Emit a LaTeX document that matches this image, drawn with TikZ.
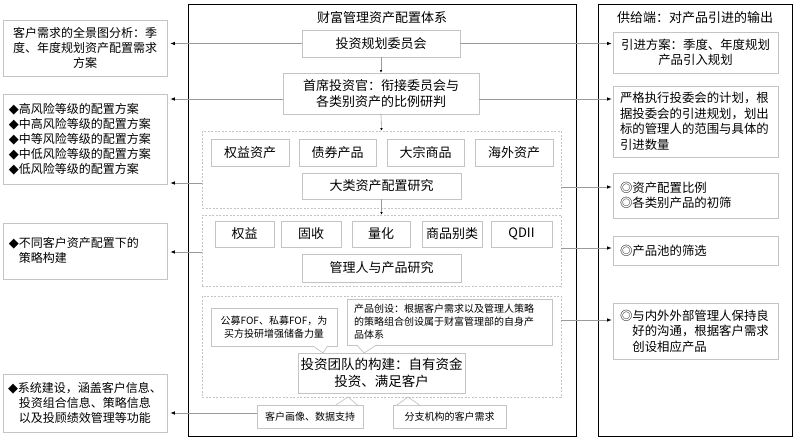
\documentclass[tikz,border=0pt]{standalone}
\usepackage{fontspec}
\setmainfont{Noto Sans CJK SC}
\newfontfamily\dvfont{DejaVu Sans}
\newcommand{\dia}{{\dvfont\fontsize{13}{15}\selectfont ◆}}
\usetikzlibrary{arrows.meta,calc}
\definecolor{bx}{HTML}{C4C4C4}
\definecolor{ln}{HTML}{9A9A9A}
\begin{document}
\begin{tikzpicture}[x=1pt,y=-1pt,
  wh/.style 2 args={minimum width=#1pt,minimum height=#2pt},
  box/.style={draw=bx,line width=0.7pt,inner sep=0pt,align=center,fill=white},
  dbox/.style={draw=bx,line width=0.7pt,dash pattern=on 2pt off 1.5pt,inner sep=0pt},
  frm/.style={draw=black,line width=1pt,inner sep=0pt},
  lt/.style={text width=#1pt,align=left},
  conn/.style={draw=ln,line width=0.7pt,-{Latex[black,length=4.5pt,width=3.5pt]}},
  vconn/.style={draw=ln,line width=0.6pt,-{Latex[black,length=2.5pt,width=2.5pt]}},
  fa/.style={font=\fontsize{13}{16}\selectfont},
  fl/.style={font=\fontsize{12}{15}\selectfont},
  fr/.style={font=\fontsize{12.4}{15.5}\selectfont},
  fs/.style={font=\fontsize{10}{13}\selectfont},
  fb/.style={font=\fontsize{13.5}{16.5}\selectfont},
  ptr/.style={draw=bx,line width=0.7pt,fill=white}
]
\useasboundingbox (0,0) rectangle (796,440);

% frames
\node[frm,wh={388}{432}] (mf) at (382,220) {};
\node[fa] (mt) at (382,18) {财富管理资产配置体系};
\node[frm,wh={194}{432}] (rf) at (695,220) {};
\node[fa] (rt) at (695,18) {供给端：对产品引进的输出};

% center column
\node[box,fa,wh={158}{27}] (b1) at (381,43.5) {投资规划委员会};
\node[box,fa,wh={196}{41}] (cio) at (381,93.5) {首席投资官：衔接委员会与\\各类别资产的比例研判};

\node[dbox,wh={359}{77}] (d1) at (381.5,169.5) {};
\node[box,fa,wh={78}{27}] (a1) at (250,152.5) {权益资产};
\node[box,fa,wh={77}{27}] (a2) at (337.5,152.5) {债券产品};
\node[box,fa,wh={77}{27}] (a3) at (425.5,152.5) {大宗商品};
\node[box,fa,wh={78}{27}] (a4) at (514,152.5) {海外资产};
\node[box,fa,wh={159}{26}] (a5) at (381.5,186) {大类资产配置研究};

\node[dbox,wh={359}{71}] (d2) at (381.5,250.5) {};
\node[box,fa,wh={59}{26}] (m1) at (244.5,234) {权益};
\node[box,fa,wh={60}{26}] (m2) at (311,234) {固收};
\node[box,fa,wh={58}{26}] (m3) at (381,234) {量化};
\node[box,fa,wh={60}{26}] (m4) at (452,234) {商品别类};
\node[box,fa,wh={61}{26}] (m5) at (521.5,234) {QDII};
\node[box,fa,wh={159}{28}] (m6) at (381.5,268) {管理人与产品研究};

\node[dbox,wh={359}{101}] (d3) at (381.5,346.5) {};
\node[box,fs,wh={126}{38}] (c1) at (274,327) {公募FOF、私募FOF，为\\买方投研增强储备力量};
\node[box,fs,wh={205}{46},lt={191}] (c2) at (449.5,322) {产品创设：根据客户需求以及管理人策略\\的策略组合创设属于财富管理部的自身产\\品体系};
\node[box,fb,wh={167}{40}] (t1) at (381.5,373) {投资团队的构建：自有资金\\投资、满足客户};
\path[ptr] ($(c1.south west)+(102,-0.5)$) -- (323,353) -- ($(c1.south west)+(117,-0.5)$);
\path[ptr] ($(c2.south west)+(10,-0.5)$) -- (364,353) -- ($(c2.south west)+(30,-0.5)$);

\node[box,fs,wh={106}{23}] (k1) at (310,416.5) {客户画像、数据支持};
\node[box,fs,wh={113}{23}] (k2) at (449.5,416.5) {分支机构的客户需求};
\path[ptr] ($(k1.north west)+(79,0.5)$) -- (348,397) -- ($(k1.north west)+(101,0.5)$);
\path[ptr] ($(k2.north west)+(4,0.5)$) -- (408,397) -- ($(k2.north west)+(27,0.5)$);

% left column
\node[box,fl,wh={164}{56}] (L1) at (85,48) {客户需求的全景图分析：季\\度、年度规划资产配置需求\\方案};
\node[box,fl,wh={164}{90},lt={152}] (L2) at (85,139) {\dia 高风险等级的配置方案\\\dia 中高风险等级的配置方案\\\dia 中等风险等级的配置方案\\\dia 中低风险等级的配置方案\\\dia 低风险等级的配置方案};
\node[box,fl,wh={164}{56},lt={152}] (L3) at (85,251) {\dia 不同客户资产配置下的\\\phantom{\dia}策略构建};
\node[box,fl,wh={164}{58}] (L4) at (85,403) {\dia 系统建设，涵盖客户信息、\\投资组合信息、策略信息\\以及投顾绩效管理等功能};

% right column
\node[box,fr,wh={165}{41}] (R1) at (695.5,52.5) {引进方案：季度、年度规划\\产品引入规划};
\node[box,fr,wh={165}{71},lt={151}] (R2) at (695.5,121.5) {严格执行投委会的计划，根\\据投委会的引进规划，划出\\标的管理人的范围与具体的\\引进数量};
\node[box,fr,wh={165}{45},lt={151}] (R3) at (695.5,195.5) {◎资产配置比例\\◎各类别产品的初筛};
\node[box,fr,wh={165}{29},lt={151}] (R4) at (695.5,250.5) {◎产品池的筛选};
\node[box,fr,wh={165}{56},lt={151}] (R5) at (695.5,331) {◎与内外外部管理人保持良\\\phantom{◎}好的沟通，根据客户需求\\\phantom{◎}创设相应产品};

% vertical arrows
\draw[vconn] (b1.south) -- (cio.north);
\draw[vconn] (cio.south) -- (d1.north);
\draw[vconn] (a5.south) -- (d2.north);

% left connectors
\draw[conn,shorten >=3pt] (b1.west) -- (b1.west -| L1.east);
\draw[conn,shorten >=3pt] ([yshift=-5.5pt]cio.west) coordinate (p1) -- (p1 -| L2.east);
\draw[conn,shorten >=3pt] ([yshift=-13.5pt]d1.west) coordinate (p2) -- (p2 -| L2.east);
\draw[conn,shorten >=3pt] ([yshift=-1.5pt]d2.west) coordinate (p3) -- (p3 -| L3.east);
\draw[conn,shorten >=3pt] ([yshift=3.5pt]k1.west) coordinate (p4) -- (p4 -| L4.east);

% right connectors
\draw[conn,shorten >=1pt] (b1.east) -- (b1.east -| R1.west);
\draw[conn,shorten >=1pt] ([yshift=-5.5pt]cio.east) coordinate (q1) -- (q1 -| R2.west);
\draw[conn,shorten >=1pt] ([yshift=-17.5pt]d1.east) coordinate (q2) -- (q2 -| R3.west);
\draw[conn,shorten >=1pt] ([yshift=2.5pt]d2.east) coordinate (q3) -- (q3 -| R4.west);
\draw[conn,shorten >=1pt] ([yshift=26.5pt]d3.east) coordinate (q4) -- (q4 -| R5.west);
\end{tikzpicture}
\end{document}
